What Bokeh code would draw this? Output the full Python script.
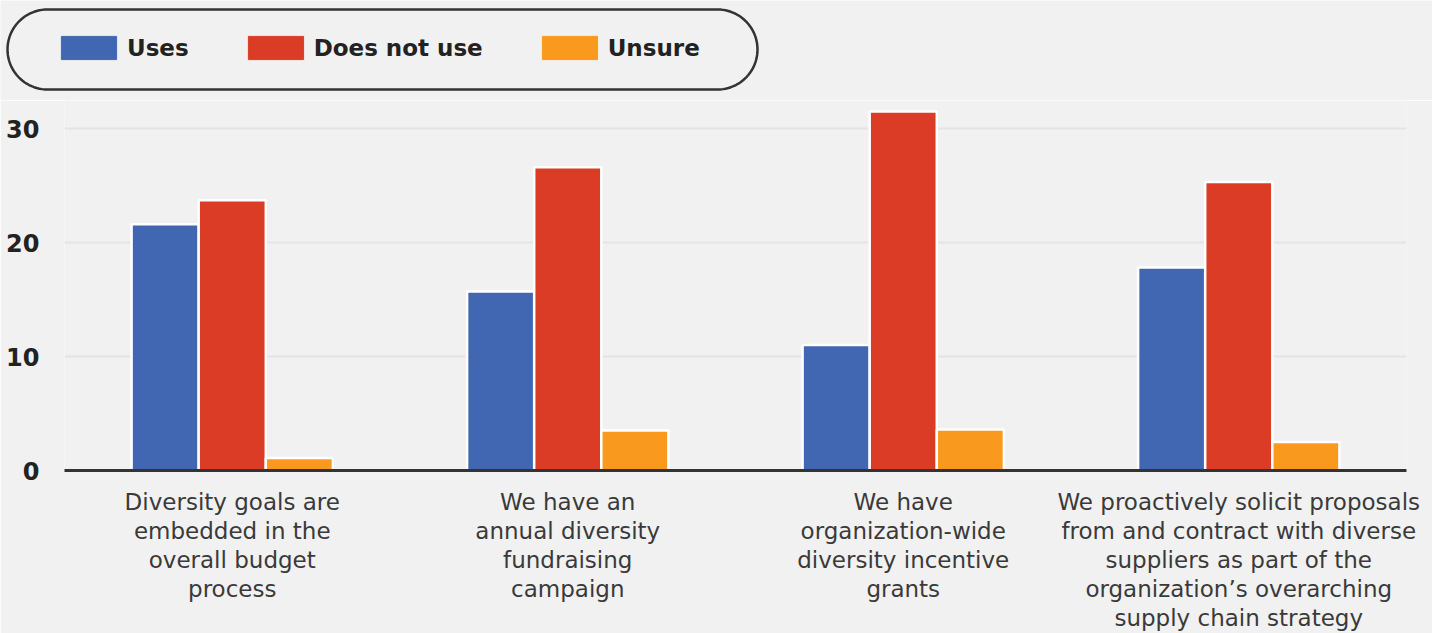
import numpy as np
from bokeh.plotting import figure
from bokeh.models import (ColumnDataSource, FactorRange, Range1d, FixedTicker,
                          Legend, LegendItem)
from bokeh.transform import dodge
from bokeh.embed import file_html
from bokeh.resources import INLINE

# ---- data ----
categories = [
    "Diversity goals are\nembedded in the\noverall budget\nprocess",
    "We have an\nannual diversity\nfundraising\ncampaign",
    "We have\norganization-wide\ndiversity incentive\ngrants",
    "We proactively solicit proposals\nfrom and contract with diverse\nsuppliers as part of the\norganization\u2019s overarching\nsupply chain strategy",
]
series_names = ["Uses", "Does not use", "Unsure"]
uses = [21.6, 15.7, 11.0, 17.8]
does_not_use = [23.7, 26.6, 31.5, 25.3]
unsure = [1.1, 3.5, 3.6, 2.5]
y_ticks = [0, 10, 20, 30]

colors = ["#4267b2", "#db3c26", "#f99a1e"]
BG = "#f1f1f1"
FONT = "DejaVu Sans"
W = 1432
LEG_H = 100
MAIN_H = 533

# ---------------- legend strip ----------------
lf = figure(width=W, height=LEG_H, x_range=Range1d(0, W), y_range=Range1d(0, LEG_H),
            x_axis_type=None, y_axis_type=None, output_backend="svg",
            toolbar_location=None, min_border=0)
lf.background_fill_color = BG
lf.border_fill_color = BG
lf.outline_line_color = None
lf.xgrid.visible = False
lf.ygrid.visible = False

# rounded (stadium) frame around the legend, in pixel units of this strip
bx0, bx1, by0, by1, rad = 7.0, 757.0, LEG_H - 89.0, LEG_H - 9.0, 40.0
t = np.linspace(0, np.pi / 2, 24)
xs, ys = [], []
for cx, cy, a0 in [(bx1 - rad, by1 - rad, 0.0), (bx0 + rad, by1 - rad, np.pi / 2),
                   (bx0 + rad, by0 + rad, np.pi), (bx1 - rad, by0 + rad, 1.5 * np.pi)]:
    xs.extend(cx + rad * np.cos(t + a0))
    ys.extend(cy + rad * np.sin(t + a0))
xs.append(xs[0]); ys.append(ys[0])
lf.line(xs, ys, line_color="#333333", line_width=2.5)

# off-screen placeholder glyphs, only used to draw the legend swatches
dummy = ColumnDataSource(data=dict(x=[-1000], top=[0]))
leg_renderers = [lf.vbar(x="x", top="top", width=1, source=dummy,
                         fill_color=c, line_color=c) for c in colors]
legend = Legend(items=[LegendItem(label=n, renderers=[r])
                       for n, r in zip(series_names, leg_renderers)],
                orientation="horizontal", location=(54, LEG_H - 62),
                glyph_width=69, glyph_height=29, label_standoff=4, spacing=52,
                padding=0, margin=0, label_text_font=FONT,
                label_text_font_style="bold", label_text_font_size="23px",
                label_text_color="#222222", label_height=29,
                border_line_color=None, background_fill_alpha=0)
lf.add_layout(legend, "center")

# ---------------- main chart ----------------
source = ColumnDataSource(data=dict(cat=categories, uses=uses,
                                    dnu=does_not_use, unsure=unsure))

p = figure(x_range=FactorRange(*categories), y_range=Range1d(0, 32.46),
           width=W, height=MAIN_H, output_backend="svg",
           toolbar_location=None, min_border_left=64, min_border_right=26,
           min_border_top=0, min_border_bottom=0)
p.background_fill_color = BG
p.border_fill_color = BG
p.outline_line_color = None

cols = ["uses", "dnu", "unsure"]
offsets = [-0.2, 0.0, 0.2]
for col, off, c in zip(cols, offsets, colors):
    p.vbar(x=dodge("cat", off, range=p.x_range), top=col, width=0.2,
           source=source, fill_color=c, line_color="white", line_width=2.5)

p.yaxis.ticker = FixedTicker(ticks=y_ticks)
p.yaxis.axis_line_color = None
p.yaxis.major_tick_line_color = None
p.yaxis.minor_tick_line_color = None
p.yaxis.major_label_text_font = FONT
p.yaxis.major_label_text_font_style = "bold"
p.yaxis.major_label_text_font_size = "24px"
p.yaxis.major_label_text_color = "#222222"
p.yaxis.major_label_standoff = 19

p.xaxis.axis_line_color = "#333333"
p.xaxis.axis_line_width = 3
p.xaxis.major_tick_line_color = None
p.xaxis.minor_tick_line_color = None
p.xaxis.major_label_text_font = FONT
p.xaxis.major_label_text_font_size = "23px"
p.xaxis.major_label_text_color = "#3a3a3a"
p.xaxis.major_label_text_line_height = 1.12
p.xaxis.major_label_standoff = 12
p.x_range.range_padding = 0

p.xgrid.grid_line_color = None
p.ygrid.grid_line_color = "#e4e4e6"
p.ygrid.grid_line_width = 2

open("out.html", "w").write(file_html([lf, p], INLINE))
